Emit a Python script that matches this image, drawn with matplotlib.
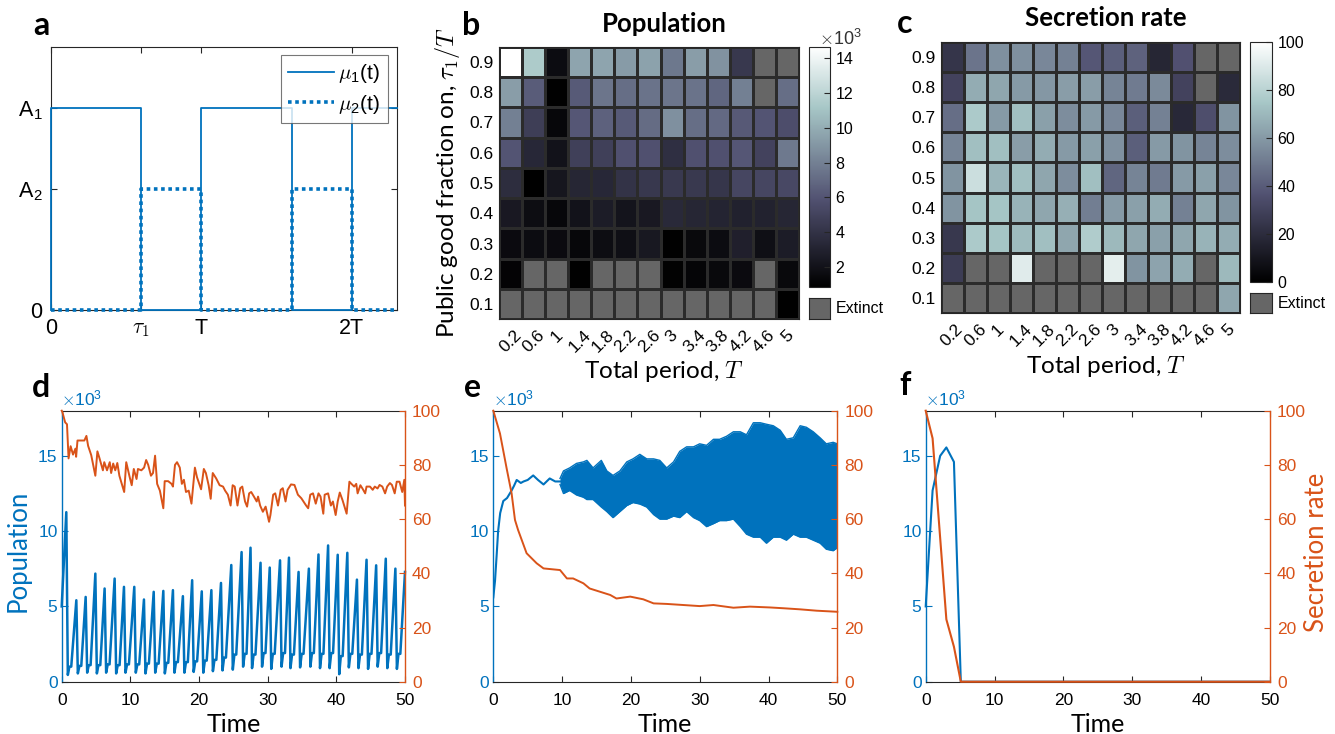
import numpy as np
import matplotlib
matplotlib.use('Agg')
import matplotlib.pyplot as plt

# ---------------- data ----------------
# panel a (schematic, time in units of T)
a_t = [0, 0, 0.6, 1.0, 1.6, 2.0, 2.3]
a_mu1 = [0, 1, 0, 1, 0, 1, 1]
a_mu2 = [0, 0, 0.6, 0, 0.6, 0, 0]
a_xticks = [0, 0.6, 1, 2]
a_xlabels = ['0', r'$\tau_1$', 'T', '2T']
a_yticks = [0, 0.6, 1]
a_ylabels = ['0', r'A$_\mathregular{2}$', r'A$_\mathregular{1}$']

# heatmaps (rows from 0.9 at top down to 0.1); NA = extinct
NA = np.nan
period_labels = ['0.2', '0.6', '1', '1.4', '1.8', '2.2', '2.6', '3', '3.4', '3.8', '4.2', '4.6', '5']
fraction_labels = ['0.9', '0.8', '0.7', '0.6', '0.5', '0.4', '0.3', '0.2', '0.1']

pop_rows = [
    [14.68, 11.4, 1.6, 9.6, 9.6, 9.2, 9.5, 7.6, 9.3, 8.8, 4.3, NA, NA],
    [9.3, 6.4, 0.9, 6.3, 7.5, 7.2, 7.4, 7.5, 7.4, 6.8, 8.0, NA, 7.2],
    [8.0, 4.7, 1.3, 6.1, 6.6, 6.3, 7.1, 8.7, 7.2, 7.0, 6.2, 6.0, 5.6],
    [6.0, 3.3, 2.0, 4.8, 4.8, 5.8, 5.8, 3.8, 5.8, 5.8, 6.1, 5.0, 7.7],
    [3.6, 0.84, 2.2, 3.2, 3.3, 4.0, 4.3, 4.4, 4.4, 4.2, 5.2, 5.2, 5.3],
    [2.4, 1.7, 1.3, 2.0, 2.6, 2.1, 2.4, 3.4, 3.2, 3.1, 2.9, 3.0, 3.2],
    [1.5, 1.6, 1.5, 1.3, 1.7, 1.8, 2.3, 0.9, 1.4, 1.6, 2.8, 1.8, 2.6],
    [1.1, NA, NA, 0.9, NA, NA, NA, 1.0, 1.2, 1.4, 1.5, NA, 1.4],
    [NA, NA, NA, NA, NA, NA, NA, NA, NA, NA, NA, NA, 0.9],
]
pop_clim = [0.84, 14.68]
pop_cticks = [2, 4, 6, 8, 10, 12, 14]

sec_rows = [
    [24, 48, 57, 57, 54, 52, 38, 41, 42, 17, 36, NA, NA],
    [30, 66, 64, 60, 59, 61, 61, 53, 50, 55, 30, NA, 19],
    [46, 76, 60, 72, 62, 56, 60, 54, 41, 52, 18, 35, 58],
    [53, 72, 72, 61, 66, 60, 62, 57, 41, 60, 58, 53, 56],
    [58, 85, 69, 72, 64, 56, 72, 43, 53, 50, 60, 62, 54],
    [58, 74, 74, 68, 64, 67, 51, 60, 62, 66, 52, 64, 58],
    [25, 76, 74, 71, 72, 64, 77, 70, 64, 62, 64, 68, 66],
    [27, NA, NA, 91, NA, NA, NA, 92, 58, 63, 66, NA, 70],
    [NA, NA, NA, NA, NA, NA, NA, NA, NA, NA, NA, NA, 64],
]
sec_clim = [0, 100]
sec_cticks = [0, 20, 40, 60, 80, 100]

# panel d: population (x10^3), spiky cycles
d_start = [0.0, 5.0]
d_peak_t = [0.67, 2.13, 3.49, 4.9, 6.25, 7.71, 9.07, 10.57, 11.98, 13.4,
            14.8, 16.2, 17.65, 19.0, 20.4, 21.8, 23.2, 24.7, 26.2, 27.5,
            28.96, 30.3, 31.8, 33.1, 34.5, 36.0, 37.4, 38.8, 40.2, 41.6,
            43.0, 44.4, 45.8, 47.2, 48.6, 50.0]
d_peak_v = [11.26, 5.41, 5.63, 7.18, 6.19, 6.85, 6.3, 6.3, 5.46, 5.97,
            6.03, 6.08, 5.68, 6.74, 6.0, 6.08, 6.56, 7.75, 8.61, 8.9,
            7.9, 7.58, 8.06, 8.24, 7.29, 7.51, 8.45, 9.05, 8.43, 8.56,
            6.78, 8.1, 7.73, 8.17, 7.51, 7.29]
d_trough_v = [0.45, 0.55, 0.6, 0.55, 0.6, 0.55, 0.6, 0.6, 0.55, 0.6,
              0.55, 0.6, 0.6, 0.65, 0.6, 0.7, 0.75, 0.8, 1.0, 0.9,
              1.0, 0.85, 1.0, 0.9, 0.95, 1.0, 0.9, 0.9, 0.5, 0.95,
              0.9, 0.85, 1.0, 0.9, 0.85]
d_shoulder_v = [1.0, 1.05, 1.1, 1.1, 1.15, 1.1, 1.15, 1.15, 1.2, 1.2,
                1.25, 1.3, 1.3, 1.35, 1.4, 1.45, 1.6, 1.8, 1.85, 1.8,
                1.9, 1.85, 1.9, 1.8, 1.85, 1.9, 1.85, 1.9, 1.7, 1.85,
                1.8, 1.85, 1.9, 1.8, 1.85]
d_trough_dt = 0.22
d_shoulder_dt = [0.45, 0.72]

# panel d: secretion rate
d_sec_t = [0, 0.1, 0.5, 0.77, 1.0, 1.3, 1.65, 2.0, 2.1, 2.3,
           3.3, 3.6, 3.85, 4.3, 4.9, 5.2, 5.5, 6.0, 6.2, 6.6,
           7.0, 7.2, 7.5, 7.8, 8.1, 8.4, 9.1, 9.4, 9.9, 10.2,
           10.5, 10.9, 11.1, 11.6, 12.0, 12.3, 12.6, 13.0, 13.3, 13.6,
           13.9, 14.3, 14.8, 15.0, 15.5, 16.0, 16.2, 16.5, 16.8, 17.2,
           17.5, 17.8, 18.1, 18.5, 18.9, 19.4, 19.7, 20.1, 20.3, 20.7,
           21.0, 21.4, 21.7, 22.0, 22.5, 23.0, 23.5, 23.8, 24.2, 24.6,
           24.9, 25.2, 25.6, 26.0, 26.3, 26.7, 27.0, 27.3, 27.6, 28.0,
           28.4, 28.6, 28.9, 29.3, 29.7, 30.2, 30.4, 30.8, 31.1, 31.5,
           31.9, 32.2, 32.6, 32.9, 33.4, 33.9, 34.4, 34.9, 35.6, 35.9,
           36.2, 36.6, 37.0, 37.4, 37.7, 38.1, 38.3, 38.8, 39.2, 39.5,
           39.9, 40.2, 40.5, 40.9, 41.5, 41.9, 42.2, 42.6, 42.9, 43.1,
           43.5, 43.8, 44.2, 44.4, 44.9, 45.3, 45.6, 46.0, 46.3, 46.7,
           47.1, 47.4, 47.8, 48.1, 48.5, 48.8, 49.2, 49.6, 49.9, 50.0]
d_sec_v = [100, 99.5, 95.7, 95, 82.4, 86.9, 83.8, 86, 83, 89,
           89, 90.7, 87, 83.6, 76, 85, 82.5, 78, 81, 78,
           81, 77, 80.5, 78, 80.7, 76, 70, 81, 75.5, 72.5,
           78.5, 74.8, 78.5, 78, 79, 81.8, 80, 76, 77, 83.4,
           73, 70.5, 64, 74, 74, 73, 72, 80, 81, 79,
           73, 74.5, 70, 70.5, 65.7, 79, 75.5, 72.5, 71, 78.5,
           77, 72.5, 67.5, 77, 75, 72.5, 72, 70.5, 69, 65,
           72.5, 72, 65, 71.4, 72, 66.5, 64.6, 69.5, 70, 68.3,
           66.5, 68.3, 65, 62.7, 64.6, 59, 61.5, 69, 69.5, 65,
           70.8, 71.4, 66.5, 70.8, 72.8, 72.6, 69, 67.7, 65, 64,
           69, 69.5, 65.7, 69.5, 68.3, 62, 69, 69.5, 65, 66.5,
           61.5, 66.5, 69.8, 67, 62, 73.8, 73, 72, 73, 69.5,
           72.5, 71.3, 69.5, 72, 72, 70.8, 72, 71.3, 72.6, 72,
           69.5, 72, 73.3, 72.6, 69.5, 73.8, 73.8, 70, 74.5, 65]

# panel e
e_pop_t0 = [0, 0.25, 0.5, 0.7, 1.0, 1.45, 2.0, 2.66, 3.0, 3.4,
            4.0, 4.4, 5.0, 5.8, 6.5, 7.3, 8.2, 9.0, 9.7]
e_pop_v0 = [5.6, 6.7, 8.5, 10.0, 11.2, 12.0, 12.2, 12.7, 13.0, 13.4,
            13.2, 13.3, 13.4, 13.7, 13.4, 13.1, 13.5, 13.3, 13.3]
e_env_t = [9.7, 10.2, 11.1, 12.1, 13.1, 13.6, 14.5, 15.7, 16.5, 17.4,
           18.4, 19.4, 20.3, 21.3, 22.3, 23.3, 24.2, 25.2, 26.2, 27.1,
           28.1, 29.1, 30.0, 31.0, 32.0, 32.9, 33.9, 34.9, 35.9, 36.8,
           37.8, 38.8, 39.7, 40.7, 41.7, 42.6, 43.6, 44.6, 45.5, 46.5,
           47.5, 48.4, 49.4, 50.0]
e_env_hi = [13.5, 14.0, 14.2, 14.5, 14.6, 14.7, 14.2, 14.7, 14.0, 13.7,
            14.0, 14.6, 14.8, 15.1, 14.8, 14.8, 14.7, 14.2, 14.6, 15.3,
            15.6, 15.6, 15.8, 15.7, 16.1, 16.1, 16.3, 16.6, 16.6, 16.4,
            17.2, 17.2, 17.1, 17.0, 16.7, 16.1, 16.2, 17.0, 16.9, 16.6,
            16.2, 15.8, 15.9, 15.8]
e_env_lo = [13.1, 12.5, 12.7, 12.4, 12.25, 12.1, 12.1, 11.6, 11.3, 10.9,
            11.3, 11.7, 11.9, 11.8, 11.6, 11.1, 10.8, 10.8, 11.0, 10.9,
            11.3, 10.9, 10.7, 10.3, 10.5, 10.7, 10.7, 10.8, 10.3, 9.8,
            9.6, 9.6, 9.2, 9.6, 9.6, 9.4, 9.8, 9.6, 9.6, 9.4,
            9.2, 8.8, 8.7, 8.9]
e_sec_t = [0, 0.97, 1.94, 2.66, 3.15, 3.6, 4.84, 6.3, 7.3, 8.5,
           9.7, 10.7, 11.6, 13.1, 14.0, 15.5, 17.0, 17.9, 19.9, 21.8,
           23.3, 25.2, 27.6, 30.0, 32.0, 34.9, 37.3, 40.2, 42.2, 44.6,
           47.0, 50.0]
e_sec_v = [100, 91.6, 78.7, 69.5, 59.7, 56, 47.4, 43.7, 41.8, 41.5,
           41.2, 38.1, 38.1, 36.3, 34.4, 33.2, 32.0, 30.7, 31.4, 30.4,
           28.9, 28.7, 28.3, 27.9, 28.3, 27.3, 27.7, 27.4, 27.1, 26.7,
           26.2, 25.8]

# panel f
f_pop_t = [0, 1, 2.1, 3, 4.1, 5.1, 50]
f_pop_v = [5.0, 12.7, 15.0, 15.56, 14.6, 0, 0]
f_sec_t = [0, 1, 3, 4.1, 5.1, 50]
f_sec_v = [100, 89.8, 23, 12.9, 0, 0]

time_ticks = [0, 10, 20, 30, 40, 50]
pop_ticks = [0, 5, 10, 15]
sec_ticks = [0, 20, 40, 60, 80, 100]

# ---------------- style ----------------
W, H = 1335, 734
BLUE = (0, 0.447, 0.741)
ORANGE = (0.85, 0.325, 0.098)
EXT = '#666666'
DARK = '#262626'
SANS = ['Liberation Sans', 'DejaVu Sans']
LAB = ['Lato', 'DejaVu Sans']
plt.rcParams['font.family'] = SANS
plt.rcParams['mathtext.fontset'] = 'cm'


def box(x0, y0, x1, y1):
    return [x0 / W, 1 - y1 / H, (x1 - x0) / W, (y1 - y0) / H]


def fx(x):
    return x / W


def fy(y):
    return 1 - y / H


fig = plt.figure(figsize=(W / 100, H / 100), dpi=100)

# ---------------- panel a ----------------
ax = fig.add_axes(box(51, 47, 397, 310))
ax.plot(a_t, a_mu1, drawstyle='steps-post', color=BLUE, lw=1.3,
        label=r'$\mu_\mathregular{1}$(t)', clip_on=False, zorder=3)
ax.plot(a_t, a_mu2, drawstyle='steps-post', color=BLUE, lw=2.6, ls=(0, (1, 1)),
        label=r'$\mu_\mathregular{2}$(t)', clip_on=False, zorder=3)
ax.set_xlim(0, 2.3)
ax.set_ylim(0, 1.3)
ax.set_xticks(a_xticks)
ax.set_xticklabels(a_xlabels)
ax.set_yticks(a_yticks)
ax.set_yticklabels(a_ylabels)
ax.tick_params(direction='in', top=True, right=True, length=4, labelsize=15.5,
               color=DARK, pad=6)
for s in ax.spines.values():
    s.set_color(DARK)
    s.set_linewidth(0.8)
leg = ax.legend(loc='upper right', bbox_to_anchor=(fx(388), fy(55)),
                bbox_transform=fig.transFigure, borderaxespad=0,
                fancybox=False, edgecolor='#555555', fontsize=15,
                handlelength=2.2, handletextpad=0.2, borderpad=0.35,
                labelspacing=0.35)
leg.get_frame().set_linewidth(0.8)
fig.text(fx(33), fy(35), 'a', fontsize=23, fontweight='bold', family=LAB, va='baseline')


# ---------------- heatmaps ----------------
def heatmap(rows, clim, cticks, axbox, cbbox, exbox, title, cx, title_y,
            xlab_y, letter, lpos, exponent):
    data = np.array(rows[::-1], dtype=float)
    cmap = plt.get_cmap('bone').copy()
    cmap.set_bad(EXT)
    hx = fig.add_axes(box(*axbox))
    hx.set_facecolor(EXT)
    mesh = hx.pcolormesh(np.arange(len(period_labels) + 1),
                         np.arange(len(fraction_labels) + 1),
                         np.ma.masked_invalid(data), cmap=cmap,
                         vmin=clim[0], vmax=clim[1],
                         edgecolors='#2b2b2b', linewidth=0.8)
    hx.set_xlim(0, len(period_labels))
    hx.set_ylim(0, len(fraction_labels))
    hx.set_xticks(np.arange(len(period_labels)) + 0.5)
    hx.set_xticklabels(period_labels, rotation=45, ha='center', va='top', fontsize=12.5)
    hx.set_yticks(np.arange(len(fraction_labels)) + 0.5)
    hx.set_yticklabels(fraction_labels[::-1], fontsize=12.5)
    hx.tick_params(axis='both', length=0)
    hx.tick_params(axis='x', pad=6)
    hx.tick_params(axis='y', pad=4)
    for s in hx.spines.values():
        s.set_color(DARK)
        s.set_linewidth(0.8)

    cax = fig.add_axes(box(*cbbox))
    cb = fig.colorbar(mesh, cax=cax, ticks=cticks)
    cb.outline.set_edgecolor(DARK)
    cb.outline.set_linewidth(0.8)
    cax.tick_params(direction='in', length=4, labelsize=11.5, color=DARK, pad=4)
    if exponent:
        fig.text(fx(cbbox[0] + 10), fy(cbbox[1] - 2), r'$\times\mathregular{10^3}$',
                 fontsize=13, color='#333333', va='baseline')

    ex = fig.add_axes(box(*exbox))
    ex.set_facecolor(EXT)
    ex.set_xticks([])
    ex.set_yticks([])
    for s in ex.spines.values():
        s.set_color(DARK)
        s.set_linewidth(0.8)
    fig.text(fx(exbox[2] + 6), fy((exbox[1] + exbox[3]) / 2), 'Extinct',
             fontsize=11.5, va='center', ha='left')

    fig.text(fx(cx), fy(title_y), title, ha='center', va='baseline',
             fontsize=18.5, fontweight='bold', family=LAB)
    fig.text(fx(cx), fy(xlab_y), r'Total period, $T$', ha='center',
             va='baseline', fontsize=17.5, family=LAB)
    fig.text(fx(lpos[0]), fy(lpos[1]), letter, fontsize=23, fontweight='bold',
             family=LAB, va='baseline')
    return hx


hb = heatmap(pop_rows, pop_clim, pop_cticks, (499.3, 46.7, 798.7, 319.3),
             (809.3, 46.7, 830, 286.7), (809.3, 298.3, 830, 319.3),
             'Population', 664.5, 32, 378, 'b', (462, 35), True)
fig.text(fx(447), fy(183), r'Public good fraction on, $\tau_1/T$', rotation=90,
         ha='center', va='center', fontsize=17.5, family=LAB)
hc = heatmap(sec_rows, sec_clim, sec_cticks, (940.7, 41.7, 1240, 313.3),
             (1250, 41.7, 1271.7, 281.7), (1250, 292.7, 1271.7, 313.3),
             'Secretion rate', 1106, 26, 373, 'c', (897, 33), False)

# ---------------- time series ----------------
d_pt = [d_start[0]]
d_pv = [d_start[1]]
for i in range(len(d_peak_t)):
    d_pt.append(d_peak_t[i])
    d_pv.append(d_peak_v[i])
    if i < len(d_trough_v):
        d_pt += [d_peak_t[i] + d_trough_dt, d_peak_t[i] + d_shoulder_dt[0],
                 d_peak_t[i] + d_shoulder_dt[1]]
        d_pv += [d_trough_v[i], d_shoulder_v[i], d_shoulder_v[i]]


def ts_axes(bx, letter, lpos, expos):
    a1 = fig.add_axes(box(*bx))
    a2 = a1.twinx()
    a1.set_xlim(0, 50)
    a1.set_ylim(0, 18)
    a2.set_ylim(0, 100)
    a1.set_xticks(time_ticks)
    a1.set_yticks(pop_ticks)
    a2.set_yticks(sec_ticks)
    a1.tick_params(axis='x', direction='in', top=True, length=4, labelsize=12.5,
                   color=DARK, pad=8)
    a1.tick_params(axis='y', direction='in', length=4, labelsize=12.5,
                   color=BLUE, labelcolor=BLUE, pad=3)
    a2.tick_params(axis='y', direction='in', length=4, labelsize=12.5,
                   color=ORANGE, labelcolor=ORANGE, pad=5)
    for sp in ('top', 'bottom'):
        a1.spines[sp].set_color(DARK)
        a1.spines[sp].set_linewidth(0.8)
        a2.spines[sp].set_visible(False)
    a1.spines['left'].set_color(BLUE)
    a1.spines['left'].set_linewidth(1.0)
    a2.spines['left'].set_visible(False)
    a1.spines['right'].set_visible(False)
    a2.spines['right'].set_color(ORANGE)
    a2.spines['right'].set_linewidth(1.0)
    fig.text(fx((bx[0] + bx[2]) / 2), fy(732), 'Time', ha='center',
             va='baseline', fontsize=18, family=LAB)
    fig.text(fx(lpos[0]), fy(lpos[1]), letter, fontsize=23, fontweight='bold',
             family=LAB, va='baseline')
    fig.text(fx(expos[0]), fy(expos[1]), r'$\times\mathregular{10^3}$',
             fontsize=12.5, color=BLUE, va='baseline')
    return a1, a2


# d
a1, a2 = ts_axes((61.7, 410.7, 405, 681.7), 'd', (32, 397), (61, 405))
a1.plot(d_pt, d_pv, color=BLUE, lw=1.8, clip_on=False)
a2.plot(d_sec_t, d_sec_v, color=ORANGE, lw=1.4, clip_on=False)
fig.text(fx(18), fy(551), 'Population', rotation=90, ha='center', va='center',
         fontsize=18.5, color=BLUE, family=LAB)

# e
b1, b2 = ts_axes((493.3, 410.7, 837.3, 681.7), 'e', (464, 397), (493, 405))
b1.plot(e_pop_t0, e_pop_v0, color=BLUE, lw=1.5)
b1.fill_between(e_env_t, e_env_lo, e_env_hi, color=BLUE, lw=0)
b1.plot(e_env_t, e_env_hi, color=BLUE, lw=1.0)
b1.plot(e_env_t, e_env_lo, color=BLUE, lw=1.0)
b2.plot(e_sec_t, e_sec_v, color=ORANGE, lw=1.4, clip_on=False)

# f
c1, c2 = ts_axes((925.7, 410.7, 1270, 681.7), 'f', (899, 395), (925, 405))
c1.plot(f_pop_t, f_pop_v, color=BLUE, lw=1.5, clip_on=False)
c2.plot(f_sec_t, f_sec_v, color=ORANGE, lw=1.5, clip_on=False)
fig.text(fx(1316), fy(552), 'Secretion rate', rotation=90, ha='center',
         va='center', fontsize=18.5, color=ORANGE, family=LAB)

fig.savefig('out.png', dpi=100)
